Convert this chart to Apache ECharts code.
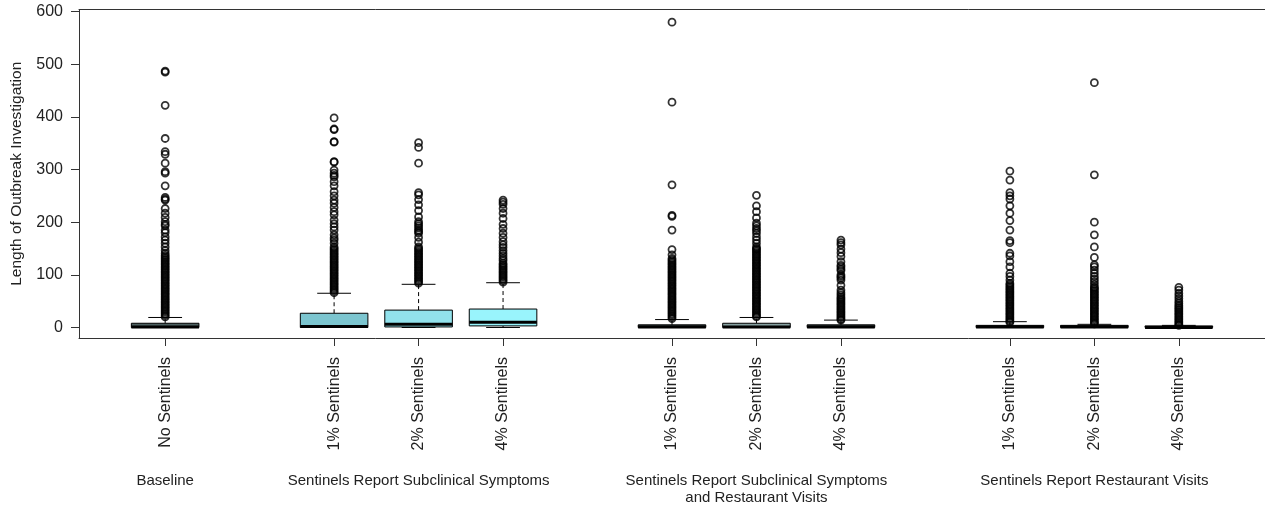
<!DOCTYPE html>
<html>
<head>
<meta charset="utf-8">
<script src="https://cdn.jsdelivr.net/npm/echarts@6/dist/echarts.min.js"></script>
<style>
html,body{margin:0;padding:0;background:#fff;}
#chart{width:1265px;height:508px;}
</style>
</head>
<body>
<div id="chart"></div>
<script>
// ---- data ----
const categories = ['No Sentinels','1% Sentinels','2% Sentinels','4% Sentinels',
                    '1% Sentinels','2% Sentinels','4% Sentinels',
                    '1% Sentinels','2% Sentinels','4% Sentinels'];
const positions = [1,3,4,5,7,8,9,11,12,13];
const whiskerLow  = [0,0,0,0,0,0,0,0,0,0];
const q1          = [0,0,1,3,0,0,0,0,0,0];
const median      = [1,2,6,10,1,1,1,1,1,0];
const q3          = [8,27,33,35,5,8,5,4,4,3];
const whiskerHigh = [19,65,82,85,15,19,14,11,6,4];
const boxFills = ['#4d6060','#7cc5cf','#92e2ec','#99f4fc','#3a4848','#86a0a0','#3a4848','#3a4848','#3a4848','#3a4848'];

const outBaseline = [487,485,422,359,334,329,312,296,293,269,247,244,242,226,217,209,201,196,193,185,180,172,166,160,153,146,141,137,134,
  131,128,125,122,119,116,113,110,107,104,101,98,95,92,89,86,83,80,77,74,71,68,65,62,59,56,53,50,47,44,41,38,35,32,29,26,23,20];
const outSub1 = [398,377,376,353,352,315,314,299,293,289,286,277,269,258,250,242,236,228,220,214,204,197,191,185,176,170,166,160,153,150,
  147,144,141,138,135,132,129,126,123,120,117,114,111,108,105,102,99,96,93,90,87,84,81,78,75,72,69,66];
const outSub2 = [351,342,312,256,252,243,233,222,210,201,197,193,189,185,182,179,171,162,153,150,
  147,144,141,138,135,132,129,126,123,120,117,114,111,108,105,102,99,96,93,90,87,84];
const outSub4 = [242,238,234,226,217,207,196,188,179,171,163,157,152,146,141,136,131,127,
  122,119,116,113,110,107,104,101,98,95,92,89,86];
const outBoth1 = [580,428,271,213,211,185,148,138,131,
  128,125,122,119,116,113,110,107,104,101,98,95,92,89,86,83,80,77,74,71,68,65,62,59,56,53,50,47,44,41,38,35,32,29,26,23,20,17];
const outBoth2 = [251,231,220,208,198,193,188,184,179,172,166,160,153,150,
  148,145,142,139,136,133,130,127,124,121,118,115,112,109,106,103,100,97,94,91,88,85,82,79,76,73,70,67,64,61,58,55,52,49,46,43,40,37,34,31,28,25,22,20];
const outBoth4 = [166,161,157,149,142,135,125,118,115,111,108,100,97,94,90,80,71,66,62,58,
  55,52,49,46,43,40,37,34,31,28,25,22,19,16,14];
const outRest1 = [297,280,256,250,244,231,217,203,185,165,161,141,136,125,115,103,97,90,
  84,81,78,75,72,69,66,63,60,57,54,51,48,45,42,39,36,33,30,27,24,21,18,15,12,10];
const outRest2 = [465,290,200,176,153,133,119,115,109,103,97,92,87,82,77,
  75,72,69,66,63,60,57,54,51,48,45,42,39,36,33,30,27,24,21,18,15,12,9,7];
const outRest4 = [76,71,65,60,55,50,46,
  42,39,36,33,30,27,24,21,18,15,12,9,6,4];
const outliers = [outBaseline,outSub1,outSub2,outSub4,outBoth1,outBoth2,outBoth4,outRest1,outRest2,outRest4];

const yTicks = [0,100,200,300,400,500,600];
const groupNames = ['Baseline','Sentinels Report Subclinical Symptoms',
  'Sentinels Report Subclinical Symptoms\nand Restaurant Visits','Sentinels Report Restaurant Visits'];
const groupCenters = [1,4,8,12];

// ---- build ----
const boxData = positions.map((p,i)=>[p, whiskerLow[i], q1[i], median[i], q3[i], whiskerHigh[i]]);
const outlierData = [];
outliers.forEach((arr,i)=>arr.forEach(v=>outlierData.push([positions[i], v])));

const FONT = '"Liberation Sans", Arial, sans-serif';
const TXT = '#222';
const AX = '#333';

function renderBox(params, api) {
  const x = api.value(0);
  const lo = api.value(1), b1 = api.value(2), md = api.value(3), b3 = api.value(4), hi = api.value(5);
  const w = api.size([0.8, 0])[0];
  const c = v => api.coord([x, v]);
  const pLo = c(lo), pQ1 = c(b1), pMd = c(md), pQ3 = c(b3), pHi = c(hi);
  const cx = pQ1[0];
  const ln = (x1,y1,x2,y2,dash,lw) => ({type:'line', shape:{x1,y1,x2,y2},
      style:{stroke:'#000', lineWidth: lw||1, lineDash: dash?[4,3]:null}});
  const ch = [];
  if (hi > b3) ch.push(ln(cx,pQ3[1],cx,pHi[1],true));
  ch.push(ln(cx-w/4,pHi[1],cx+w/4,pHi[1]));
  if (lo < b1) ch.push(ln(cx,pQ1[1],cx,pLo[1],true));
  ch.push(ln(cx-w/4,pLo[1],cx+w/4,pLo[1]));
  ch.push({type:'rect', shape:{x:cx-w/2, y:pQ3[1], width:w, height:pQ1[1]-pQ3[1]},
           style:{fill: boxFills[params.dataIndex], stroke:'#000', lineWidth:1}});
  ch.push(ln(cx-w/2,pMd[1],cx+w/2,pMd[1],false,3));
  return {type:'group', children: ch};
}

const chart = echarts.init(document.getElementById('chart'), null, {renderer:'canvas'});
chart.setOption({
  animation: false,
  backgroundColor: '#fff',
  grid: {left: 79, top: 9.5, width: 1189, height: 328.5, show: false},
  xAxis: [{
    type: 'value', min: -0.02, max: 14.02, position: 'bottom',
    splitLine: {show:false},
    axisLine: {show:true, onZero:false, lineStyle:{color:AX}},
    axisTick: {show:true, length: 8, customValues: positions, lineStyle:{color:AX}},
    axisLabel: {show:true, rotate: 90, margin: 19, customValues: positions,
      fontFamily: FONT, fontSize: 16, color: TXT,
      formatter: v => categories[positions.indexOf(v)] || ''}
  },{
    type: 'value', min: -0.02, max: 14.02, position: 'bottom', offset: 0,
    splitLine: {show:false}, axisLine:{show:false, onZero:false}, axisTick:{show:false},
    axisLabel: {show:true, margin: 134, customValues: groupCenters,
      fontFamily: FONT, fontSize: 15, color: TXT, lineHeight: 17, align:'center',
      formatter: v => groupNames[groupCenters.indexOf(v)] || ''}
  },{
    type: 'value', min: -0.02, max: 14.02, position: 'top', offset: 0,
    splitLine: {show:false}, axisLine:{show:true, onZero:false, lineStyle:{color:AX}},
    axisTick:{show:false}, axisLabel:{show:false}
  }],
  yAxis: {
    type: 'value', min: -20, max: 604,
    splitLine: {show:false},
    axisLine: {show:true, onZero:false, lineStyle:{color:AX}},
    axisTick: {show:true, length: 8, customValues: yTicks, lineStyle:{color:AX}},
    axisLabel: {show:true, margin: 16, customValues: yTicks,
      fontFamily: FONT, fontSize: 16, color: TXT},
    name: 'Length of Outbreak Investigation', nameLocation: 'middle', nameGap: 54,
    nameRotate: 90, nameTextStyle: {fontFamily: FONT, fontSize: 15.5, color: TXT}
  },
  series: [{
    type: 'custom', xAxisIndex: 0, yAxisIndex: 0,
    renderItem: renderBox, data: boxData, silent: true,
    encode: {x: 0, y: [1,2,3,4,5]}
  },{
    type: 'scatter', xAxisIndex: 0, yAxisIndex: 0, data: outlierData, silent: true,
    symbol: 'circle', symbolSize: 7,
    itemStyle: {color: 'rgba(0,0,0,0)', borderColor: '#000', borderWidth: 1.8}
  }]
});
</script>
</body>
</html>
